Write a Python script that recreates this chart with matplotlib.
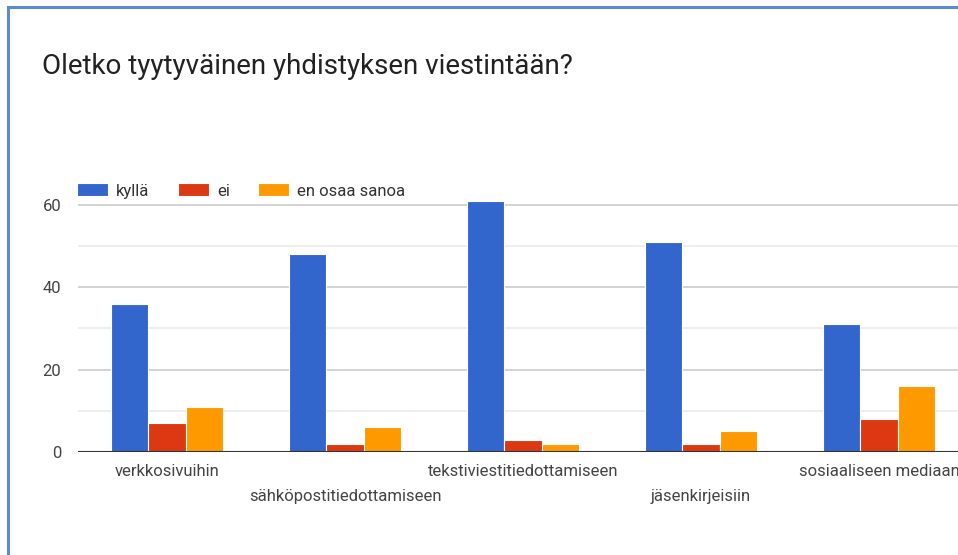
import matplotlib
matplotlib.use("Agg")
import matplotlib.pyplot as plt
from matplotlib.patches import Rectangle
import numpy as np

title = "Oletko tyytyväinen yhdistyksen viestintään?"
categories = ["verkkosivuihin", "sähköpostitiedottamiseen", "tekstiviestitiedottamiseen",
              "jäsenkirjeisiin", "sosiaaliseen mediaan"]
series_names = ["kyllä", "ei", "en osaa sanoa"]
kylla = [36, 48, 61, 51, 31]
ei = [7, 2, 3, 2, 8]
en_osaa = [11, 6, 2, 5, 16]
colors = ["#3366cc", "#dc3912", "#ff9900"]
yticks = [0, 20, 40, 60]

plt.rcParams['font.family'] = ['Roboto', 'DejaVu Sans']

W, H = 958, 555
fig = plt.figure(figsize=(W / 100, H / 100), dpi=100)

# axes geometry in pixels
x0, ybase = 78, 452
px_per_unit = 4.12
ymax = 62
cat_px = 178
ax = fig.add_axes([x0 / W, (H - ybase) / H, (W - x0) / W, ymax * px_per_unit / H])
ax.set_xlim(-0.5, -0.5 + (W - x0) / cat_px)
ax.set_ylim(0, ymax)

x = np.arange(len(categories))
bw = 0.21
handles = []
for i, (vals, c, name) in enumerate(zip([kylla, ei, en_osaa], colors, series_names)):
    b = ax.bar(x + (i - 1) * bw, vals, width=bw, color=c, edgecolor="white",
               linewidth=0.8, label=name, zorder=3)
    handles.append(b)

# gridlines
ax.set_yticks(yticks)
ax.set_yticks([10, 30, 50], minor=True)
ax.grid(axis='y', which='major', color='#cccccc', linewidth=1.2, zorder=0)
ax.grid(axis='y', which='minor', color='#ebebeb', linewidth=1.2, zorder=0)
ax.axhline(0, color='#333333', linewidth=1.5, zorder=4)
ax.tick_params(axis='y', which='both', length=0, pad=12, labelsize=12, labelcolor='#444444')
ax.tick_params(axis='x', length=0)
ax.set_xticks([])
for s in ax.spines.values():
    s.set_visible(False)

# staggered category labels
for i, cat in enumerate(categories):
    ypix = 472 if i % 2 == 0 else 496
    fig.text((x0 + (i + 0.5) * cat_px) / W, 1 - ypix / H, cat, ha='center', va='center',
             fontsize=12, color='#444444')

# title
fig.text(42 / W, 1 - 66 / H, title, ha='left', va='center', fontsize=20, color='#222222')

# legend
leg = fig.legend(handles=handles, labels=series_names, loc='center left',
                 bbox_to_anchor=(77 / W, 1 - 191 / H), ncol=3, frameon=False,
                 fontsize=12, handlelength=1.85, handleheight=0.8, handletextpad=0.5,
                 columnspacing=1.7, borderaxespad=0, borderpad=0)
for t in leg.get_texts():
    t.set_color('#333333')

# frame border
fig.patches.append(Rectangle((8 / W, -0.1), 1.2, 1 - 7 / H + 0.1, transform=fig.transFigure,
                             fill=False, edgecolor='#5b8bd0', linewidth=2.2))

fig.savefig("out.png", dpi=100)
